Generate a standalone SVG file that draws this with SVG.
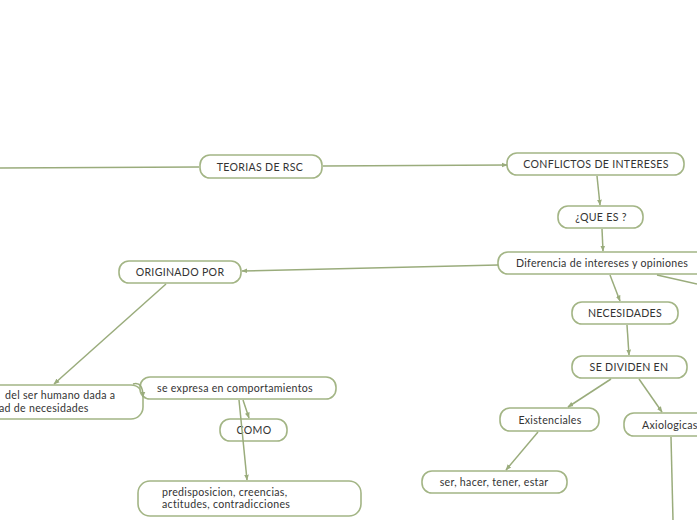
<svg xmlns="http://www.w3.org/2000/svg" width="697" height="520" viewBox="0 0 697 520">
<defs>
<style>
.n rect{fill:#fff;stroke:#a3b585;stroke-width:1.6}
.n text{font-family:"Lato","Open Sans",sans-serif;font-size:10.6px;fill:#333;letter-spacing:0.3px}
.c path{fill:none;stroke:#9aac7c;stroke-width:1.5}
</style>
<marker id="a" viewBox="0 0 10 10" refX="9" refY="5" markerWidth="6" markerHeight="6" orient="auto" markerUnits="userSpaceOnUse">
<path d="M0,1 L10,5 L0,9 z" fill="#9aac7c"/>
</marker>
</defs>
<rect width="697" height="520" fill="#fff"/>
<g id="teorias" class="n"><rect x="200" y="155" width="122" height="23" rx="10"/><text x="260" y="170.5" text-anchor="middle">TEORIAS DE RSC</text></g>
<g id="conflictos" class="n"><rect x="507" y="153" width="177" height="22" rx="10"/><text x="596" y="167.5" text-anchor="middle">CONFLICTOS DE INTERESES</text></g>
<g id="quees" class="n"><rect x="558" y="206" width="85" height="22" rx="10"/><text x="601" y="220.5" text-anchor="middle">¿QUE ES ?</text></g>
<g id="diferencia" class="n"><rect x="498" y="252" width="210" height="22" rx="10"/><text x="516" y="266.5">Diferencia de intereses y opiniones</text></g>
<g id="originado" class="n"><rect x="119" y="261" width="122" height="22" rx="10"/><text x="180" y="275.5" text-anchor="middle">ORIGINADO POR</text></g>
<g id="insatisfaccion" class="n"><rect x="-40" y="385" width="183" height="34" rx="12"/><text x="5" y="399">del ser humano dada a</text><text x="-1" y="412">ad de necesidades</text></g>
<g id="expresa" class="n"><rect x="140" y="377" width="196" height="22" rx="10"/><text x="157" y="391.5">se expresa en comportamientos</text></g>
<g id="como" class="n"><rect x="220" y="419" width="67" height="22" rx="10"/><text x="254" y="433.5" text-anchor="middle">COMO</text></g>
<g id="predisposicion" class="n"><rect x="138" y="481" width="223" height="35" rx="12"/><text x="162" y="495.5">predisposicion, creencias,</text><text x="162" y="508">actitudes, contradicciones</text></g>
<g id="necesidades" class="n"><rect x="572" y="302" width="106" height="22" rx="10"/><text x="625" y="316.5" text-anchor="middle">NECESIDADES</text></g>
<g id="dividen" class="n"><rect x="572" y="356" width="115" height="22" rx="10"/><text x="629" y="370.5" text-anchor="middle">SE DIVIDEN EN</text></g>
<g id="existenciales" class="n"><rect x="500" y="408" width="99" height="23" rx="10"/><text x="550" y="423.5" text-anchor="middle">Existenciales</text></g>
<g id="axiologicas" class="n"><rect x="624" y="413" width="90" height="23" rx="10"/><text x="642" y="428.5">Axiologicas</text></g>
<g id="ser" class="n"><rect x="422" y="471" width="145" height="22" rx="10"/><text x="494" y="485.5" text-anchor="middle">ser, hacer, tener, estar</text></g>
<g class="c">
<path d="M0,168 L199,167"/>
<path d="M323,166 L507,165" marker-end="url(#a)"/>
<path d="M597,176 L600,205" marker-end="url(#a)"/>
<path d="M602,229 L603,251" marker-end="url(#a)"/>
<path d="M498,265 L242,271" marker-end="url(#a)"/>
<path d="M166,284 L54,384" marker-end="url(#a)"/>
<path d="M133,384 Q143,381 143,397" marker-end="url(#a)"/>
<path d="M243,400 L249,418" marker-end="url(#a)"/>
<path d="M239,400 L247,480" marker-end="url(#a)"/>
<path d="M610,275 L620,301" marker-end="url(#a)"/>
<path d="M657,275 L697,284"/>
<path d="M627,325 L629,355" marker-end="url(#a)"/>
<path d="M611,379 L568,407" marker-end="url(#a)"/>
<path d="M639,379 L662,412" marker-end="url(#a)"/>
<path d="M538,432 L506,470" marker-end="url(#a)"/>
<path d="M671,437 L673,520"/>
</g>
</svg>
